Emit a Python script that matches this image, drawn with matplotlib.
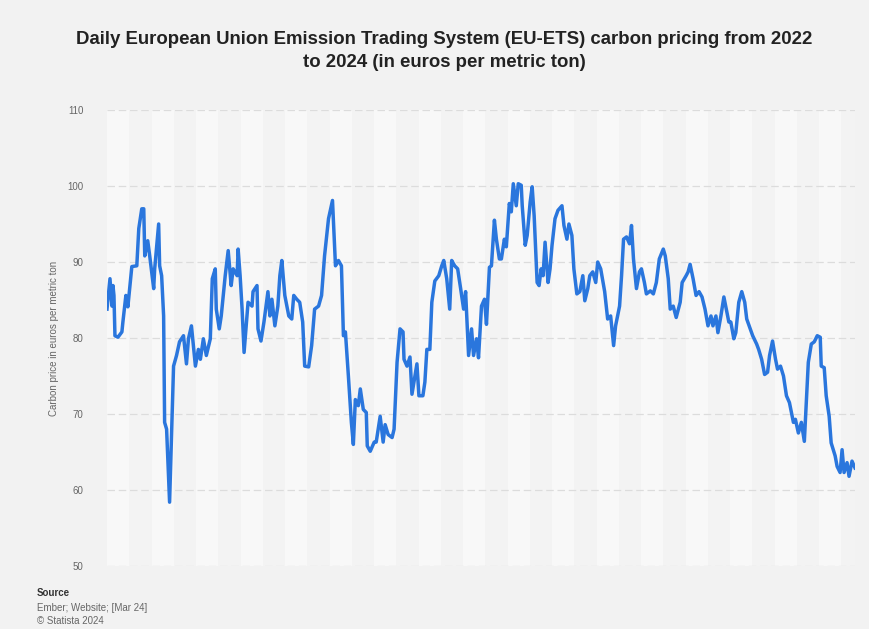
import matplotlib
matplotlib.use("Agg")
import matplotlib.pyplot as plt
import numpy as np
import pandas as pd

# ---------------- data ----------------
start_date = "2022-01-03"
day_offsets = [
    0, 3, 5, 6, 7, 8, 11, 15, 16, 19, 21, 25, 30, 32, 35, 37, 38, 41, 43, 47,
    48, 52, 53, 55, 57, 58, 60, 63, 67, 70, 73, 77, 80, 82, 85, 89, 92, 94, 97, 100,
    104, 106, 109, 110, 113, 115, 119, 122, 125, 127, 131, 132, 134, 136, 138, 142, 146, 147, 151, 152,
    155, 158, 162, 164, 166, 169, 172, 174, 176, 179, 183, 186, 188, 191, 194, 197, 199, 203, 206, 209,
    213, 216, 219, 223, 227, 230, 233, 236, 238, 240, 243, 246, 248, 250, 253, 255, 258, 261, 262, 265,
    269, 271, 275, 278, 280, 283, 287, 289, 292, 295, 298, 299, 302, 305, 307, 310, 312, 314, 318, 320,
    322, 325, 327, 330, 334, 337, 339, 342, 345, 347, 350, 353, 356, 359, 361, 364, 367, 369, 372, 374,
    377, 380, 382, 385, 387, 390, 392, 395, 397, 400, 402, 405, 407, 409, 412, 414, 417, 418, 421, 423,
    426, 428, 430, 433, 435, 437, 439, 441, 444, 446, 448, 451, 454, 458, 460, 463, 465, 468, 470, 473,
    476, 479, 481, 484, 486, 489, 492, 494, 497, 501, 504, 507, 510, 512, 516, 518, 520, 523, 526, 528,
    530, 533, 536, 538, 541, 543, 547, 550, 553, 556, 560, 562, 565, 567, 570, 573, 577, 579, 583, 585,
    587, 590, 593, 596, 599, 602, 605, 608, 610, 613, 615, 618, 621, 624, 626, 628, 631, 633, 636, 639,
    642, 644, 647, 650, 654, 656, 659, 662, 665, 667, 670, 673, 675, 678, 681, 684, 687, 691, 693, 696,
    699, 702, 704, 706, 709, 712, 715, 718, 719, 722, 724, 727, 729, 733, 735, 738, 740, 742, 745, 747,
    750, 753,
]
prices = [
    83.8, 87.8, 84.2, 86.9, 85.6, 80.3, 80.1, 80.8, 82.1, 85.6, 84.1, 89.4, 89.5, 94.4, 97.0, 97.0, 90.8, 92.8, 90.8, 86.5,
    89.1, 95.0, 89.5, 88.2, 82.9, 68.9, 68.0, 58.4, 76.3, 77.7, 79.5, 80.3, 76.6, 79.9, 81.6, 76.3, 78.5, 77.2, 79.9, 77.7,
    79.9, 87.8, 89.1, 83.8, 81.2, 82.9, 88.2, 91.5, 86.9, 89.1, 88.2, 91.7, 88.2, 83.8, 78.1, 84.7, 84.2, 86.1, 86.9, 81.2,
    79.6, 82.1, 86.1, 82.9, 85.1, 81.6, 84.2, 88.2, 90.2, 85.6, 82.9, 82.5, 85.6, 85.1, 84.7, 82.1, 76.3, 76.2, 79.0, 83.8,
    84.2, 85.6, 90.8, 95.7, 98.1, 89.5, 90.2, 89.5, 80.3, 80.8, 75.0, 68.9, 66.0, 71.9, 71.1, 73.3, 70.6, 70.2, 65.8, 65.1,
    66.3, 66.3, 69.7, 66.3, 68.6, 67.3, 66.9, 68.0, 76.8, 81.2, 80.8, 77.2, 76.3, 77.5, 72.6, 75.0, 76.6, 72.4, 72.4, 74.2,
    78.5, 78.5, 84.7, 87.5, 88.2, 89.5, 90.2, 87.8, 83.8, 90.2, 89.5, 89.1, 86.5, 83.8, 86.1, 77.7, 81.2, 77.7, 79.9, 77.4,
    84.2, 85.1, 81.8, 89.3, 89.5, 95.5, 93.0, 90.4, 90.4, 93.0, 92.0, 97.7, 96.6, 100.3, 97.4, 100.3, 100.1, 97.4, 92.2, 93.5,
    97.9, 99.9, 96.1, 87.3, 86.9, 89.1, 88.2, 92.6, 87.3, 89.1, 92.2, 95.7, 96.8, 97.4, 94.8, 93.0, 95.0, 93.5, 89.1, 85.8,
    86.1, 88.2, 84.9, 86.5, 88.2, 88.7, 87.3, 90.0, 89.1, 86.1, 82.5, 82.9, 79.0, 81.6, 84.2, 88.2, 93.0, 93.3, 92.4, 94.8,
    90.4, 86.5, 88.7, 89.1, 87.3, 85.8, 86.2, 85.8, 87.3, 90.4, 91.7, 90.8, 87.8, 83.8, 84.2, 82.7, 84.7, 87.3, 88.2, 88.7,
    89.7, 87.8, 85.6, 86.1, 85.4, 83.8, 81.6, 82.9, 81.6, 82.9, 80.7, 82.9, 85.4, 83.4, 82.1, 82.1, 79.9, 80.7, 84.7, 86.1,
    84.7, 82.5, 81.4, 80.3, 79.2, 78.5, 77.2, 75.2, 75.5, 77.7, 79.6, 77.2, 75.9, 76.3, 75.0, 72.4, 71.5, 68.9, 69.3, 67.5,
    68.9, 66.4, 71.5, 76.8, 79.2, 79.5, 80.3, 80.1, 76.3, 76.1, 72.4, 69.7, 66.2, 64.5, 63.1, 62.3, 65.3, 62.3, 63.6, 61.8,
    63.8, 62.9,
]
y_ticks = [50, 60, 70, 80, 90, 100, 110]

title = ("Daily European Union Emission Trading System (EU-ETS) carbon pricing from 2022\n"
         "to 2024 (in euros per metric ton)")
y_label = "Carbon price in euros per metric ton"

# ---------------- plot ----------------
plt.rcParams['font.family'] = ['Liberation Sans', 'DejaVu Sans']

dates = pd.Timestamp(start_date) + pd.to_timedelta(day_offsets, unit="D")

fig = plt.figure(figsize=(8.69, 6.29), dpi=100)
fig.patch.set_facecolor('#f2f2f2')
ax = fig.add_axes([107 / 869, 1 - 566 / 629, (855 - 107) / 869, (566 - 110) / 629])
ax.set_facecolor('#f2f2f2')

x0 = dates[0]
x1 = dates[-1]
ax.set_xlim(x0, x1)
ax.set_ylim(y_ticks[0], y_ticks[-1])

# alternating vertical bands
band = pd.Timedelta(days=22.4)
b = x0
i = 0
while b < x1:
    ax.axvspan(b, min(b + band, x1), color='#f8f8f8' if i % 2 == 0 else '#f3f3f3',
               lw=0, zorder=0)
    b = b + band
    i += 1

for t in y_ticks:
    ax.axhline(t, color='#dcdcdc', lw=0.9, ls=(0, (6, 3)), zorder=1)

ax.plot(dates, prices, color='#2a76dd', lw=2.5, solid_joinstyle='round', zorder=3)

ax.set_yticks(y_ticks)
ax.set_yticklabels([str(t) for t in y_ticks], fontsize=7, color='#666666')
ax.tick_params(axis='y', length=0, pad=17)
ax.set_xticks([])
for s in ax.spines.values():
    s.set_visible(False)

ax.set_ylabel(y_label, fontsize=7, color='#666666', labelpad=6)

fig.text(444 / 869, 1 - 51 / 629, title, ha='center', va='center', fontsize=13.4,
         fontweight='bold', color='#222222', linespacing=1.4)

fig.text(37 / 869, 1 - 593 / 629, "Source", fontsize=7, fontweight='bold',
         color='#333333', va='center')
fig.text(37 / 869, 1 - 608 / 629, "Ember; Website; [Mar 24]", fontsize=7,
         color='#666666', va='center')
fig.text(37 / 869, 1 - 621 / 629, "© Statista 2024", fontsize=7,
         color='#666666', va='center')

fig.savefig("out.png", dpi=100, facecolor=fig.get_facecolor())
